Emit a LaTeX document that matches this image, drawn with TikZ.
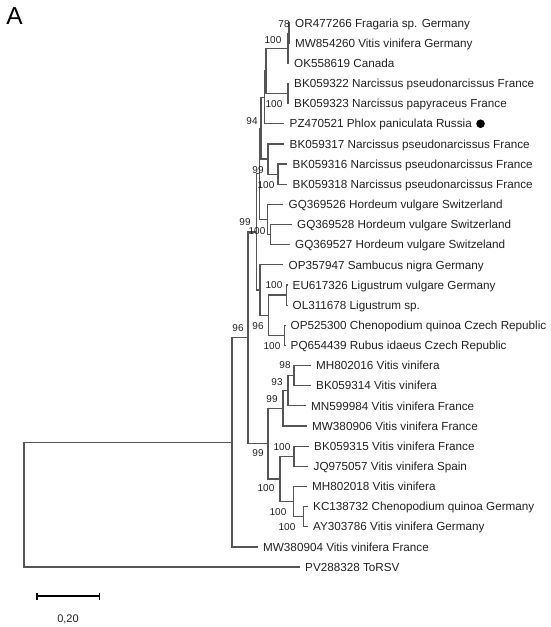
\documentclass[tikz,border=0pt]{standalone}
\usepackage{fontspec}
\setmainfont{Liberation Sans}
\definecolor{treegray}{HTML}{555555}
\definecolor{labcol}{HTML}{222222}
\tikzset{
  br/.style={draw=treegray, line width=1.2pt},
  leaf/.style={anchor=west, inner xsep=5.5pt, inner ysep=0pt, text height=8.4pt, text depth=0pt,
    font=\fontsize{11.7}{12}\selectfont, text=labcol},
  bs/.style={inner sep=0pt, text height=7.2pt, text depth=0pt, font=\fontsize{10}{10}\selectfont, text=labcol},
  sbar/.style={draw=black, line width=1.8pt},
}
\begin{document}
\begin{tikzpicture}[x=1pt, y=-1pt]
\useasboundingbox (0,0) rectangle (550,627);
% panel letter
\node[inner sep=0pt, text height=17.5pt, text depth=0pt, font=\fontsize{24.5}{25}\selectfont] (A) at (14.5,16.2) {A};
% leaves
\node[leaf] (L1) at (289.5,23) {OR477266 Fragaria sp. Germany};
\node[leaf] (L2) at (289.5,43.15) {MW854260 Vitis vinifera Germany};
\node[leaf] (L3) at (288.5,63.3) {OK558619 Canada};
\node[leaf] (L4) at (288.5,83.45) {BK059322 Narcissus pseudonarcissus France};
\node[leaf] (L5) at (288.5,103.6) {BK059323 Narcissus papyraceus France};
\node[leaf] (L6) at (284,123.75) {PZ470521 Phlox paniculata Russia};
\node[leaf] (L7) at (284,143.9) {BK059317 Narcissus pseudonarcissus France};
\node[leaf] (L8) at (287,164.05) {BK059316 Narcissus pseudonarcissus France};
\node[leaf] (L9) at (287,184.2) {BK059318 Narcissus pseudonarcissus France};
\node[leaf] (L10) at (283,204.35) {GQ369526 Hordeum vulgare Switzerland};
\node[leaf] (L11) at (291.5,224.5) {GQ369528 Hordeum vulgare Switzerland};
\node[leaf] (L12) at (289.5,244.65) {GQ369527 Hordeum vulgare Switzeland};
\node[leaf] (L13) at (283,264.8) {OP357947 Sambucus nigra Germany};
\node[leaf] (L14) at (287,284.95) {EU617326 Ligustrum vulgare Germany};
\node[leaf] (L15) at (287,305.1) {OL311678 Ligustrum sp.};
\node[leaf] (L16) at (285,325.25) {OP525300 Chenopodium quinoa Czech Republic};
\node[leaf] (L17) at (285,345.4) {PQ654439 Rubus idaeus Czech Republic};
\node[leaf] (L18) at (310.5,365.55) {MH802016 Vitis vinifera};
\node[leaf] (L19) at (310.5,385.7) {BK059314 Vitis vinifera};
\node[leaf] (L20) at (305.5,405.85) {MN599984 Vitis vinifera France};
\node[leaf] (L21) at (306.5,426) {MW380906 Vitis vinifera France};
\node[leaf] (L22) at (308.5,446.15) {BK059315 Vitis vinifera France};
\node[leaf] (L23) at (308,466.3) {JQ975057 Vitis vinifera Spain};
\node[leaf] (L24) at (306.5,486.45) {MH802018 Vitis vinifera};
\node[leaf] (L25) at (307.5,506.6) {KC138732 Chenopodium quinoa Germany};
\node[leaf] (L26) at (307.5,526.75) {AY303786 Vitis vinifera Germany};
\node[leaf] (L27) at (257.5,546.9) {MW380904 Vitis vinifera France};
\node[leaf] (L28) at (299.5,567.05) {PV288328 ToRSV};
\node[circle, fill=black, inner sep=0pt, minimum size=8.6pt] (dot) at ([xshift=3pt]L6.east) {};
% internal nodes
\coordinate (N1) at (289,33.1);
\coordinate (N2) at (288,48.2);
\coordinate (N3) at (288,93.5);
\coordinate (N4) at (266,70.9);
\coordinate (N5) at (264.5,97.3);
\coordinate (N7) at (278,174.1);
\coordinate (N8) at (268,159);
\coordinate (N6) at (261,128.2);
\coordinate (N10) at (270.5,234.6);
\coordinate (N9) at (267.5,219.5);
\coordinate (N11) at (259.5,173.8);
\coordinate (N12) at (286.5,295);
\coordinate (N13) at (284.5,335.3);
\coordinate (N14) at (268.5,315.2);
\coordinate (N15) at (260,290);
\coordinate (N16) at (256.5,231.9);
\coordinate (V1) at (294,375.6);
\coordinate (V2) at (288,390.7);
\coordinate (V3) at (283,408.4);
\coordinate (V4) at (294,456.2);
\coordinate (V5) at (303.5,516.7);
\coordinate (V6) at (293.5,501.6);
\coordinate (V7) at (280,478.9);
\coordinate (V8) at (268,443.7);
\coordinate (N17) at (248,337.8);
\coordinate (N18) at (232,442.4);
\coordinate (R) at (24,504.7);
% branches
\draw[br] (L1.west) -| (N1) |- (L2.west);
\draw[br] (N1) -| (N2) |- (L3.west);
\draw[br] (L4.west) -| (N3) |- (L5.west);
\draw[br] (N2) -| (N4) |- (N3);
\draw[br] (N4) -| (N5) |- (L6.west);
\draw[br] (L8.west) -| (N7) |- (L9.west);
\draw[br] (L7.west) -| (N8) |- (N7);
\draw[br] (N5) -| (N6) |- (N8);
\draw[br] (L11.west) -| (N10) |- (L12.west);
\draw[br] (L10.west) -| (N9) |- (N10);
\draw[br] (N6) -| (N11) |- (N9);
\draw[br] (L14.west) -| (N12) |- (L15.west);
\draw[br] (L16.west) -| (N13) |- (L17.west);
\draw[br] (N12) -| (N14) |- (N13);
\draw[br] (L13.west) -| (N15) |- (N14);
\draw[br] (N11) -| (N16) |- (N15);
\draw[br] (L18.west) -| (V1) |- (L19.west);
\draw[br] (V1) -| (V2) |- (L20.west);
\draw[br] (V2) -| (V3) |- (L21.west);
\draw[br] (L22.west) -| (V4) |- (L23.west);
\draw[br] (L25.west) -| (V5) |- (L26.west);
\draw[br] (L24.west) -| (V6) |- (V5);
\draw[br] (V4) -| (V7) |- (V6);
\draw[br] (V3) -| (V8) |- (V7);
\draw[br] (N16) -| (N17) |- (V8);
\draw[br] (N17) -| (N18) |- (L27.west);
\draw[br] (N18) -| (R) |- (L28.west);
% bootstrap labels
\node[bs] (b1) at (284,24) {78};
\node[bs] (b2) at (273,40) {100};
\node[bs] (b3) at (274,104) {100};
\node[bs] (b4) at (252,121) {94};
\node[bs] (b5) at (258,170) {99};
\node[bs] (b6) at (266,185) {100};
\node[bs] (b7) at (245,222) {99};
\node[bs] (b8) at (257,231) {100};
\node[bs] (b9) at (274,285) {100};
\node[bs] (b10) at (238,328) {96};
\node[bs] (b11) at (258,326) {96};
\node[bs] (b12) at (272,346) {100};
\node[bs] (b13) at (285,365) {98};
\node[bs] (b14) at (277,382) {93};
\node[bs] (b15) at (272,399) {99};
\node[bs] (b16) at (282,447) {100};
\node[bs] (b17) at (258,453) {99};
\node[bs] (b18) at (266,488) {100};
\node[bs] (b19) at (278,512) {100};
\node[bs] (b20) at (287,527) {100};
% scale bar
\coordinate (sb1) at (37,596);
\coordinate (sb2) at (99.5,596);
\draw[sbar] (sb1) -- (sb2);
\draw[sbar] ([yshift=3.5pt]sb1) -- ([yshift=-3.5pt]sb1);
\draw[sbar] ([yshift=3.5pt]sb2) -- ([yshift=-3.5pt]sb2);
\node[bs, font=\fontsize{11}{11}\selectfont, text height=8pt] (sblab) at (68,618) {0,20};
\end{tikzpicture}
\end{document}
